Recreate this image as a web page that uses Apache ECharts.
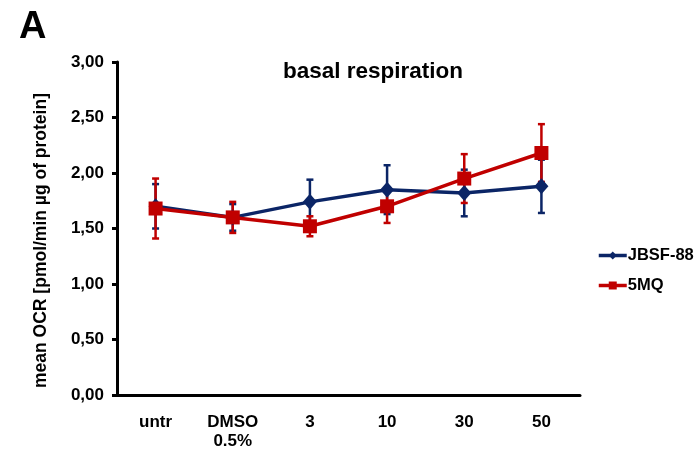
<!DOCTYPE html>
<html>
<head>
<meta charset="utf-8">
<script src="https://cdn.jsdelivr.net/npm/echarts@6/dist/echarts.min.js"></script>
<style>
  html, body { margin: 0; padding: 0; background: #fff; }
  #chart { width: 699px; height: 451px; }
</style>
</head>
<body>
<div id="chart"></div>
<script>
// data
var categories = ['untr', 'DMSO\n0.5%', '3', '10', '30', '50'];
var jbsfMean = [1.70, 1.60, 1.74, 1.85, 1.82, 1.88];
var jbsfErr  = [0.20, 0.12, 0.20, 0.22, 0.21, 0.24];
var mqMean   = [1.68, 1.60, 1.52, 1.70, 1.95, 2.18];
var mqErr    = [0.27, 0.14, 0.09, 0.15, 0.22, 0.26];
var yTicks   = [0, 0.5, 1, 1.5, 2, 2.5, 3];

var blue = '#0b2566';
var red = '#c00000';

function errData(mean, err) {
  return mean.map(function (m, i) { return [i, m - err[i], m + err[i]]; });
}

// error bars drawn as a custom series
function errSeries(name, mean, err, color) {
  return {
    name: name,
    type: 'custom',
    z: 2,
    silent: true,
    data: errData(mean, err),
    renderItem: function (params, api) {
      var lo = api.coord([api.value(0), api.value(1)]);
      var hi = api.coord([api.value(0), api.value(2)]);
      var w = 3.5;
      var st = { stroke: color, lineWidth: 2.5 };
      return {
        type: 'group',
        children: [
          { type: 'line', shape: { x1: hi[0], y1: hi[1], x2: lo[0], y2: lo[1] }, style: st },
          { type: 'line', shape: { x1: hi[0] - w, y1: hi[1], x2: hi[0] + w, y2: hi[1] }, style: st },
          { type: 'line', shape: { x1: lo[0] - w, y1: lo[1], x2: lo[0] + w, y2: lo[1] }, style: st }
        ]
      };
    }
  };
}

var chart = echarts.init(document.getElementById('chart'));
var font = 'Liberation Sans, Arial, sans-serif';

chart.setOption({
  animation: false,
  textStyle: { fontFamily: font },
  title: [{
    text: 'A',
    left: 14, top: 4,
    textStyle: { fontSize: 38, fontWeight: 'bold', color: '#000', fontFamily: font }
  }, {
    text: 'basal respiration',
    left: 368, top: 55, textAlign: 'center',
    textStyle: { fontSize: 22.5, fontWeight: 'bold', color: '#000', fontFamily: font }
  }],
  legend: {
    orient: 'vertical',
    left: 597, top: 247,
    padding: 0,
    itemGap: 13,
    itemWidth: 28, itemHeight: 10,
    lineStyle: { width: 3.5 },
    data: ['JBSF-88', '5MQ'],
    textStyle: { fontSize: 16.5, fontWeight: 'bold', color: '#000', fontFamily: font, padding: [0, 0, 0, -4] }
  },
  grid: { left: 117, right: 119, top: 62, bottom: 55 },
  xAxis: {
    type: 'category',
    data: categories,
    boundaryGap: true,
    axisLine: { lineStyle: { color: '#000', width: 3 } },
    axisTick: { alignWithLabel: true, length: 4, lineStyle: { color: '#000', width: 3 } },
    axisLabel: {
      margin: 18, color: '#000', fontSize: 17, fontWeight: 'bold',
      lineHeight: 19, fontFamily: font
    }
  },
  yAxis: {
    type: 'value',
    min: yTicks[0], max: yTicks[yTicks.length - 1], interval: 0.5,
    name: 'mean OCR [pmol/min µg of protein]',
    nameLocation: 'middle',
    nameGap: 67,
    nameTextStyle: {
      fontSize: 17.5, fontWeight: 'bold', color: '#000', fontFamily: font,
      padding: [0, 24, 0, 0]
    },
    splitLine: { show: false },
    axisLine: { show: true, lineStyle: { color: '#000', width: 3 } },
    axisTick: { show: true, length: 5, lineStyle: { color: '#000', width: 3 } },
    axisLabel: {
      margin: 13, color: '#000', fontSize: 17, fontWeight: 'bold', fontFamily: font,
      formatter: function (v) { return v.toFixed(2).replace('.', ','); }
    }
  },
  series: [
    errSeries('JBSF-88 err', jbsfMean, jbsfErr, blue),
    errSeries('5MQ err', mqMean, mqErr, red),
    {
      name: 'JBSF-88',
      type: 'line',
      data: jbsfMean,
      z: 3,
      symbol: 'diamond',
      symbolSize: [14, 16],
      lineStyle: { color: blue, width: 3.5 },
      itemStyle: { color: blue }
    },
    {
      name: '5MQ',
      type: 'line',
      data: mqMean,
      z: 4,
      symbol: 'rect',
      symbolSize: 14,
      lineStyle: { color: red, width: 3.5 },
      itemStyle: { color: red }
    }
  ]
});
</script>
</body>
</html>
